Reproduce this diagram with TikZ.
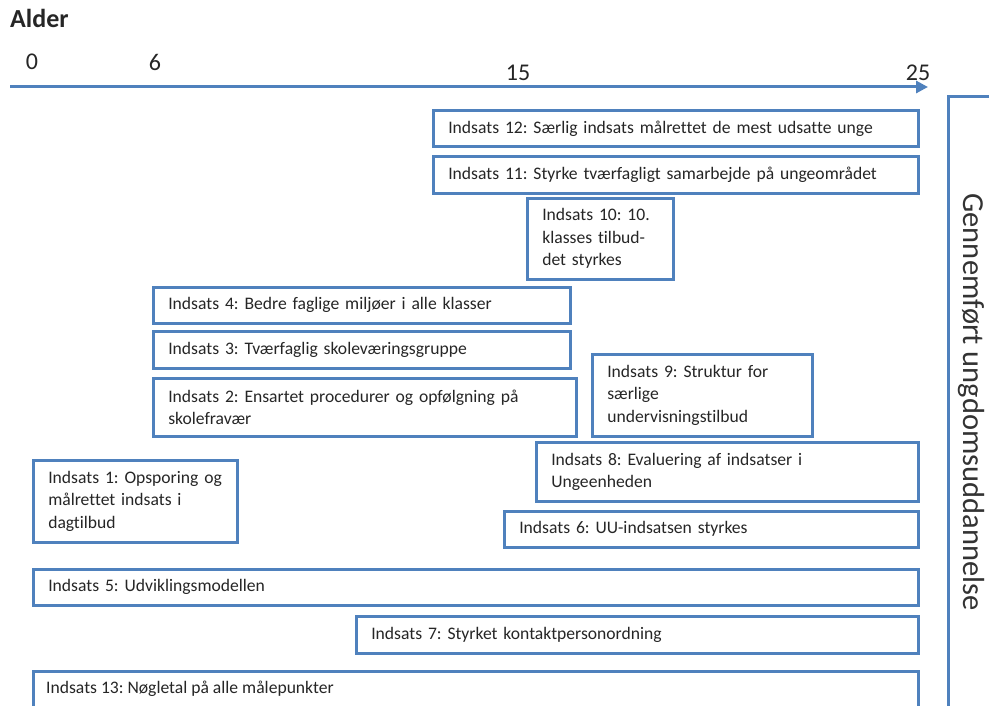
\documentclass[tikz,border=0pt]{standalone}
\usepackage{fontspec}
\setmainfont{Carlito}[Ligatures=NoCommon]
\usetikzlibrary{arrows.meta}
\definecolor{boxblue}{RGB}{79,129,189}
\frenchspacing
\begin{document}
\begin{tikzpicture}[x=1pt,y=-1pt,
  box/.style={draw=boxblue,line width=2.6pt,rectangle,anchor=north west,
    inner xsep=14pt,inner ysep=0pt,align=left,
    font=\fontsize{17.6}{22.5}\selectfont,text=black!85},
  lbl/.style={font=\fontsize{24}{26}\selectfont,text=black!85,inner sep=0pt}]
\useasboundingbox (0,0) rectangle (989,706);
\clip (0,0) rectangle (989,706);
\fill[white] (0,0) rectangle (989,706);
\node[lbl,font=\fontsize{26}{28}\bfseries\selectfont,anchor=west] (alder) at (10,18) {Alder};
\node[lbl] (t0) at (32,62) {0};
\node[lbl] (t6) at (155,62) {6};
\node[lbl] (t15) at (518,73) {15};
\node[lbl] (t25) at (918,73) {25};
\coordinate (ax0) at (10,87);
\coordinate (ax1) at (928,87);
\draw[boxblue,line width=3pt,-{Triangle[length=12pt,width=12pt]}] (ax0) -- (ax1);
\node[draw=boxblue,line width=2.6pt,rectangle,anchor=north west,minimum width=80pt,minimum height=650pt,inner sep=0pt] (goal) at (947,95) {};
\node[lbl,font=\fontsize{30.5}{32}\selectfont,rotate=-90,text=black!80] (goaltxt) at (971,402) {Gennemført ungdomsuddannelse};
\newcommand{\ibox}[7]{\node[box,minimum width=#4pt,minimum height=#5pt,text width=#6pt] (#1) at (#2,#3) {#7};}
\ibox{b12}{432}{109}{485}{36}{455}{Indsats 12: Særlig indsats målrettet de mest udsatte unge}
\ibox{b11}{432}{155}{485}{37}{455}{Indsats 11: Styrke tværfagligt samarbejde på ungeområdet}
\ibox{b10}{526}{197}{146}{81}{116}{Indsats 10: 10.\\klasses tilbud-\\det styrkes}
\ibox{b4}{152}{286}{417}{36}{387}{Indsats 4: Bedre faglige miljøer i alle klasser}
\ibox{b3}{152}{330}{417}{37}{387}{Indsats 3: Tværfaglig skoleværingsgruppe}
\ibox{b2}{152}{377}{423}{58}{393}{Indsats 2: Ensartet procedurer og opfølgning på\\skolefravær}
\ibox{b9}{591}{353}{220}{82}{190}{Indsats 9: Struktur for\\særlige\\undervisningstilbud}
\ibox{b8}{535}{441}{382}{59}{352}{Indsats 8: Evaluering af indsatser i\\Ungeenheden}
\ibox{b1}{32}{459}{204}{82}{174}{Indsats 1: Opsporing og\\målrettet indsats i\\dagtilbud}
\ibox{b6}{503}{510}{414}{36}{384}{Indsats 6: UU-indsatsen styrkes}
\ibox{b5}{32}{568}{885}{36}{855}{Indsats 5: Udviklingsmodellen}
\ibox{b7}{355}{615}{562}{37}{532}{Indsats 7: Styrket kontaktpersonordning}
\node[box,minimum width=885pt,minimum height=60pt,text width=855pt] (b13) at (32,670) {};
\node[font=\fontsize{17.6}{22.5}\selectfont,text=black!85,anchor=west,inner sep=0pt] (b13txt) at (46,689) {Indsats 13: Nøgletal på alle målepunkter};
\end{tikzpicture}
\end{document}
